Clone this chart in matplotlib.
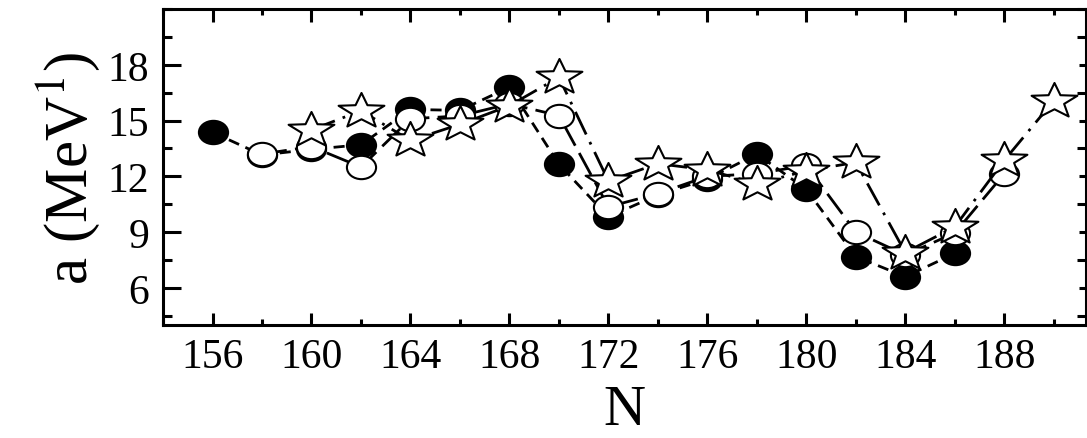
import matplotlib
matplotlib.use("Agg")
import matplotlib.pyplot as plt
import numpy as np
from matplotlib.path import Path
from matplotlib.ticker import MultipleLocator

# Values
n_filled = [156, 158, 160, 162, 164, 166, 168, 170, 172, 174, 176, 178, 180, 182, 184, 186]
a_filled = [14.37, 13.15, 13.45, 13.7, 15.6, 15.55, 16.8, 12.65, 9.82, 11.0, 11.85, 13.2, 11.3, 7.68, 6.6, 7.85]

n_open = [158, 160, 162, 164, 166, 168, 170, 172, 174, 176, 178, 180, 182, 184, 186, 188]
a_open = [13.2, 13.6, 12.5, 15.1, 15.25, 15.9, 15.27, 10.36, 11.07, 12.0, 12.14, 12.59, 9.0, 7.77, 8.95, 12.14]

n_star = [160, 162, 164, 166, 168, 170, 172, 174, 176, 178, 180, 182, 184, 186, 188, 190]
a_star = [14.5, 15.53, 13.93, 14.8, 15.8, 17.33, 11.75, 12.68, 12.35, 11.6, 12.3, 12.75, 7.9, 9.28, 12.86, 16.07]

x_ticks = [156, 160, 164, 168, 172, 176, 180, 184, 188]
y_ticks = [6, 9, 12, 15, 18]

plt.rcParams['font.family'] = ['Liberation Serif', 'DejaVu Serif']
plt.rcParams['mathtext.fontset'] = 'stix'

# Symbols in the reference are stretched sideways
circ = Path.unit_circle()
ellipse = Path(circ.vertices * [1.25, 1.0], circ.codes)
st = Path.unit_regular_star(5, 0.42)
star = Path(st.vertices * [1.3, 1.0], st.codes)

fig = plt.figure(figsize=(10.87, 4.39), dpi=100)
ax = fig.add_axes([0.15, 0.2574, 0.849, 0.7196])

# filled circles
ax.plot(n_filled, a_filled, color='k', lw=2.0, dashes=(4, 2.5),
        marker=ellipse, ms=21, mfc='k', mec='k', mew=1.5, zorder=3)
# open circles
ax.plot(n_open, a_open, color='k', lw=2.0, dashes=(9, 3),
        marker=ellipse, ms=21, mfc='white', mec='k', mew=1.5, zorder=4)
# stars
ax.plot(n_star, a_star, color='k', lw=2.0, dashes=(9, 3, 1, 3),
        marker=star, ms=33, mfc='white', mec='k', mew=1.5, zorder=5)

ax.set_xlim(154, 191.3)
ax.set_ylim(4, 21)
ax.set_xticks(x_ticks)
ax.set_yticks(y_ticks)
ax.xaxis.set_minor_locator(MultipleLocator(2))
ax.yaxis.set_minor_locator(MultipleLocator(1.5))

for s in ax.spines.values():
    s.set_linewidth(2.2)

ax.tick_params(axis='both', which='both', direction='in', top=True, right=True,
               width=2.2, labelsize=30)
ax.tick_params(axis='x', which='major', length=9, pad=9)
ax.tick_params(axis='x', which='minor', length=4)
ax.tick_params(axis='y', which='major', length=13, pad=10)
ax.tick_params(axis='y', which='minor', length=6.5)
for t in ax.yaxis.get_major_ticks():
    t.tick2line.set_markersize(5)

ax.set_xlabel('N', fontsize=42, labelpad=6)
ax.set_ylabel(r'a (MeV$^{1}$)', fontsize=44, labelpad=4)

fig.savefig('out.png', dpi=100)
